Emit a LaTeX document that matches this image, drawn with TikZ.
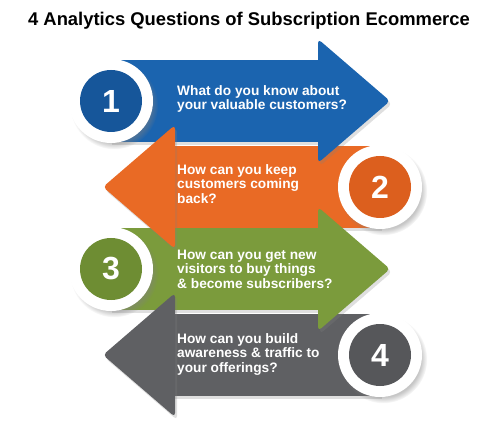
\documentclass[tikz,border=0pt]{standalone}
\usepackage{fontspec}
\setmainfont{Liberation Sans}
\usepackage{xcolor}
\usetikzlibrary{shadows}
\definecolor{qblue}{HTML}{1B64AF}
\definecolor{qblued}{HTML}{16569A}
\definecolor{qorange}{HTML}{E96A25}
\definecolor{qoranged}{HTML}{DC5F1E}
\definecolor{qgreen}{HTML}{7B9B3C}
\definecolor{qgreend}{HTML}{6E8D33}
\definecolor{qgray}{HTML}{5F6063}
\definecolor{qgrayd}{HTML}{56575A}
\begin{document}
\begin{tikzpicture}[x=1pt,y=-1pt,
  shade/.style={drop shadow={shadow xshift=2pt,shadow yshift=-3pt,opacity=0.25}},
  ring/.style={circle,fill=white,minimum size=84pt,inner sep=0pt,
    circular drop shadow={shadow xshift=3pt,shadow yshift=-4pt,shadow scale=1.05,opacity=0.45}},
  disc/.style={circle,minimum size=62pt,inner sep=0pt,text=white,
    font=\bfseries\fontsize{32}{32}\selectfont},
  qtext/.style={anchor=west,align=left,inner sep=0pt,text=white,
    font=\bfseries\fontsize{13.7}{14.5}\selectfont}]
\useasboundingbox (0,0) rectangle (492,427);
\node[font=\bfseries\fontsize{18.4}{18.4}\selectfont] (title) at (249,21) {4 Analytics Questions of Subscription Ecommerce};
\fill[qblue,shade] (110,60) rectangle (322,142);
\fill[qorange,shade] (171,146) rectangle (380,228);
\fill[qgreen,shade] (110,228) rectangle (322,310);
\fill[qgray,shade] (171,314) rectangle (380,396);
\fill[qblue,shade,rounded corners=4pt] (318,39) -- (390,101) -- (318,163) -- cycle;
\fill[qorange,shade,rounded corners=4pt] (175,125) -- (103,187) -- (175,249) -- cycle;
\fill[qgreen,shade,rounded corners=4pt] (318,207) -- (390,269) -- (318,331) -- cycle;
\fill[qgray,shade,rounded corners=4pt] (175,293) -- (103,355) -- (175,417) -- cycle;
\node[ring] (r1) at (111,101) {};
\node[ring] (r2) at (380,187) {};
\node[ring] (r3) at (111,269) {};
\node[ring] (r4) at (380,355) {};
\node[disc,fill=qblued] (n1) at (r1) {1};
\node[disc,fill=qoranged] (n2) at (r2) {2};
\node[disc,fill=qgreend] (n3) at (r3) {3};
\node[disc,fill=qgrayd] (n4) at (r4) {4};
\node[qtext] (t1) at (177,99) {What do you know about\\your valuable customers?};
\node[qtext] (t2) at (177,184) {How can you keep\\customers coming\\back?};
\node[qtext] (t3) at (177,269) {How can you get new\\visitors to buy things\\\& become subscribers?};
\node[qtext] (t4) at (177,354) {How can you build\\awareness \& traffic to\\your offerings?};
\end{tikzpicture}
\end{document}
